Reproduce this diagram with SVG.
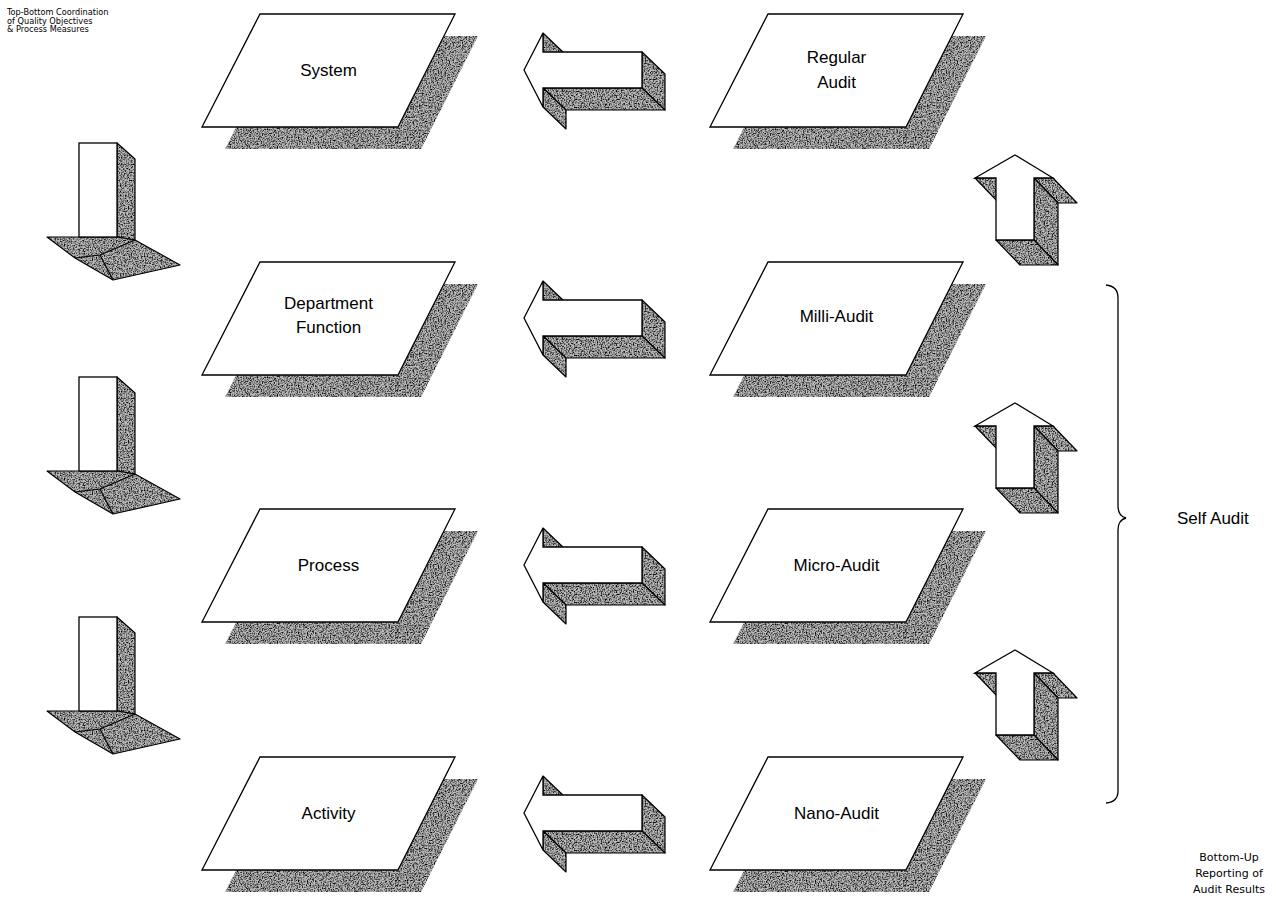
<svg xmlns="http://www.w3.org/2000/svg" xmlns:xlink="http://www.w3.org/1999/xlink" width="1276" height="910" viewBox="0 0 1276 910">
  <style>
    .face { fill: #ffffff; stroke: #000000; stroke-width: 1.3; stroke-linejoin: miter; }
    .shade { fill: #bcbcbc; }
    .side polygon, .side polyline { fill: #bcbcbc; stroke: #000000; stroke-width: 1.2; stroke-linejoin: round; }
    .side polyline { fill: none; }
    .lbl { font-family: "Liberation Sans", Arial, sans-serif; font-size: 17px; fill: #000000; text-anchor: middle; }
    .side-lbl { font-family: "Liberation Sans", Arial, sans-serif; font-size: 17px; fill: #000000; text-anchor: start; }
    .note-top { font-family: "DejaVu Sans", Verdana, sans-serif; font-size: 8.2px; fill: #000000; }
    .note-bot { font-family: "DejaVu Sans", Verdana, sans-serif; font-size: 11px; fill: #000000; text-anchor: middle; }
    .brace { fill: none; stroke: #000000; stroke-width: 1.3; }
  </style>
  <defs>
    <!-- speckled grey used for shadows and the extruded arrow sides -->
    <filter id="grain" color-interpolation-filters="sRGB">
      <feTurbulence type="fractalNoise" baseFrequency="0.75" numOctaves="2" seed="4" result="noise"/>
      <feColorMatrix in="noise" type="matrix" values="0 0 0 0 0  0 0 0 0 0  0 0 0 0 0  -2.6 0 0 0 1.55" result="spots"/>
      <feComposite in="spots" in2="SourceGraphic" operator="atop"/>
    </filter>

    <!-- slanted plate used by every level box -->
    <polygon id="plate" points="58,0 253,0 196,113 0,113"/>

    <!-- 3D arrow pointing left, tip at origin -->
    <g id="arrow-left">
      <g class="side" filter="url(#grain)">
        <polygon points="19,-37 42,-15 42,4 19,-18"/>
        <polygon points="118,-18 141,4 141,40 118,18"/>
        <polygon points="19,18 118,18 141,40 42,40"/>
        <polygon points="19,18 42,40 42,59 19,37"/>
      </g>
      <polygon class="face" points="0,0 19,-37 19,-18 118,-18 118,18 19,18 19,37"/>
    </g>

    <!-- 3D arrow pointing up, tip at origin -->
    <g id="arrow-up">
      <g class="side" filter="url(#grain)">
        <polygon points="-40,23 -19,23 5,48 -16,48"/>
        <polygon points="19,23 38,23 62,48 43,48"/>
        <polygon points="19,23 43,48 43,110 19,85"/>
        <polygon points="19,85 -19,85 5,110 43,110"/>
      </g>
      <polygon class="face" points="0,0 38,23 19,23 19,85 -19,85 -19,23 -40,23"/>
    </g>

    <!-- 3D arrow pointing down, origin at top-left of the shaft -->
    <g id="arrow-down">
      <g class="side" filter="url(#grain)">
        <polygon points="38,0 56,16 56,97 38,94"/>
        <polygon points="-32,94 38,94 56,97 101,122 34,137 -4,115"/>
        <polyline points="-4,115 21,112 56,97"/>
        <polyline points="21,112 34,137"/>
      </g>
      <rect class="face" x="0" y="0" width="38" height="94"/>
    </g>
  </defs>

  <rect width="1276" height="910" fill="#ffffff"/>

  <!-- side notes -->
  <g id="note-top">
    <text class="note-top" x="7" y="15">Top-Bottom Coordination</text>
    <text class="note-top" x="7" y="23.5">of Quality Objectives</text>
    <text class="note-top" x="7" y="32">&amp; Process Measures</text>
  </g>
  <g id="note-bottom">
    <text class="note-bot" x="1229" y="861">Bottom-Up</text>
    <text class="note-bot" x="1229" y="877">Reporting of</text>
    <text class="note-bot" x="1229" y="893">Audit Results</text>
  </g>

  <!-- connectors -->
  <g id="connectors">
    <use xlink:href="#arrow-left" transform="translate(524,70)"/>
    <use xlink:href="#arrow-left" transform="translate(524,318)"/>
    <use xlink:href="#arrow-left" transform="translate(524,565)"/>
    <use xlink:href="#arrow-left" transform="translate(524,813)"/>

    <use xlink:href="#arrow-down" transform="translate(79,143)"/>
    <use xlink:href="#arrow-down" transform="translate(79,377)"/>
    <use xlink:href="#arrow-down" transform="translate(79,617)"/>

    <use xlink:href="#arrow-up" transform="translate(1015,155)"/>
    <use xlink:href="#arrow-up" transform="translate(1015,403)"/>
    <use xlink:href="#arrow-up" transform="translate(1015,650)"/>

    <path class="brace" d="M1106,285 Q1118,286 1118,298 L1118,506 Q1118,516 1126,518 Q1118,520 1118,530 L1118,791 Q1118,802 1106,803"/>
  </g>

  <g id="label-self-audit">
    <text class="side-lbl" x="1177" y="524">Self Audit</text>
  </g>

  <!-- left column -->
  <g id="node-system" transform="translate(202,14)">
    <use xlink:href="#plate" class="shade" x="23" y="22" filter="url(#grain)"/>
    <use xlink:href="#plate" class="face"/>
    <text class="lbl" x="126.5" y="62">System</text>
  </g>
  <g id="node-department" transform="translate(202,262)">
    <use xlink:href="#plate" class="shade" x="23" y="22" filter="url(#grain)"/>
    <use xlink:href="#plate" class="face"/>
    <text class="lbl" x="126.5" y="47">Department</text>
    <text class="lbl" x="126.5" y="71">Function</text>
  </g>
  <g id="node-process" transform="translate(202,509)">
    <use xlink:href="#plate" class="shade" x="23" y="22" filter="url(#grain)"/>
    <use xlink:href="#plate" class="face"/>
    <text class="lbl" x="126.5" y="62">Process</text>
  </g>
  <g id="node-activity" transform="translate(202,757)">
    <use xlink:href="#plate" class="shade" x="23" y="22" filter="url(#grain)"/>
    <use xlink:href="#plate" class="face"/>
    <text class="lbl" x="126.5" y="62">Activity</text>
  </g>

  <!-- right column -->
  <g id="node-regular-audit" transform="translate(710,14)">
    <use xlink:href="#plate" class="shade" x="23" y="22" filter="url(#grain)"/>
    <use xlink:href="#plate" class="face"/>
    <text class="lbl" x="126.5" y="49">Regular</text>
    <text class="lbl" x="126.5" y="74">Audit</text>
  </g>
  <g id="node-milli-audit" transform="translate(710,262)">
    <use xlink:href="#plate" class="shade" x="23" y="22" filter="url(#grain)"/>
    <use xlink:href="#plate" class="face"/>
    <text class="lbl" x="126.5" y="60">Milli-Audit</text>
  </g>
  <g id="node-micro-audit" transform="translate(710,509)">
    <use xlink:href="#plate" class="shade" x="23" y="22" filter="url(#grain)"/>
    <use xlink:href="#plate" class="face"/>
    <text class="lbl" x="126.5" y="62">Micro-Audit</text>
  </g>
  <g id="node-nano-audit" transform="translate(710,757)">
    <use xlink:href="#plate" class="shade" x="23" y="22" filter="url(#grain)"/>
    <use xlink:href="#plate" class="face"/>
    <text class="lbl" x="126.5" y="62">Nano-Audit</text>
  </g>
</svg>
